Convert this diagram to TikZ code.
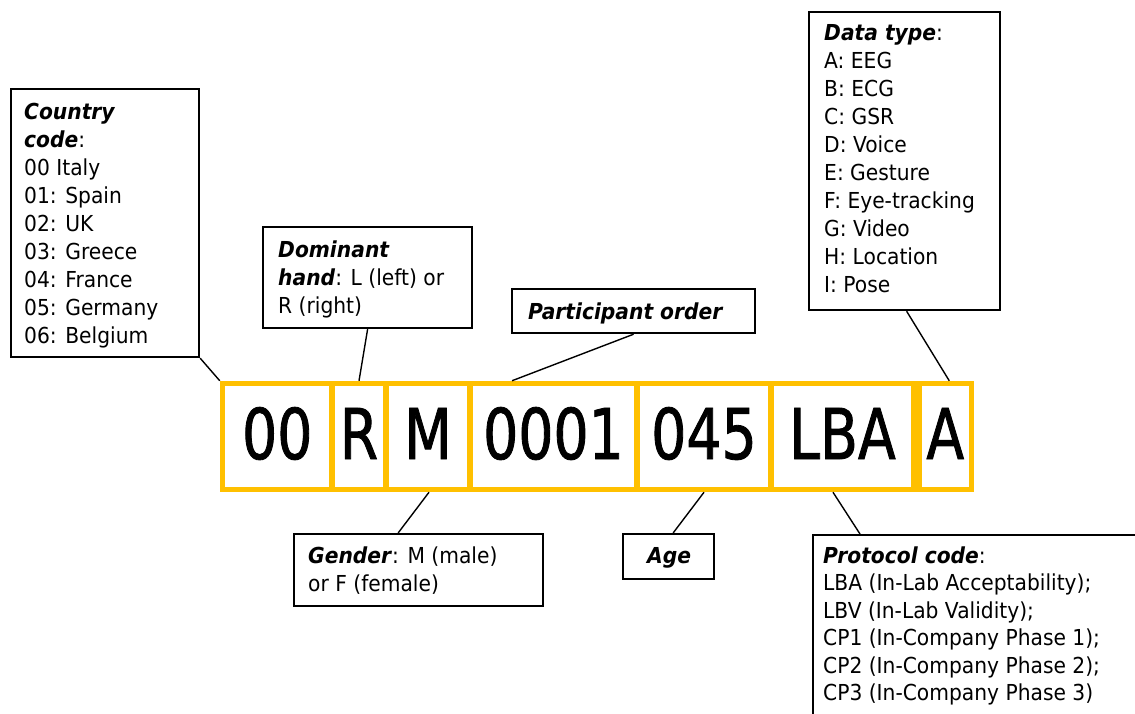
\documentclass[tikz,border=0pt]{standalone}
\usepackage{fontspec}
\setmainfont{DejaVu Sans}[FakeStretch=0.92,
  BoldFont={DejaVu Sans Bold},
  ItalicFont={DejaVu Sans Oblique},
  BoldItalicFont={DejaVu Sans Bold Oblique}]
\newfontfamily\bigfont{DejaVu Sans}[FakeStretch=0.79, FakeBold=1.2]
\usetikzlibrary{calc}
\definecolor{codeyellow}{HTML}{FFC000}
\newcommand{\bi}[1]{\textbf{\textit{#1}}}
\newcommand{\fst}{\rule{0pt}{20pt}}
\begin{document}
\begin{tikzpicture}[x=1pt,y=-1pt,
  lbl/.style={font=\fontsize{22}{28}\selectfont, inner sep=0pt, align=left, anchor=north west},
  lblone/.style={font=\fontsize{22}{28}\selectfont, inner sep=0pt, anchor=base west},
  box/.style={draw=black, line width=2.2pt, inner sep=0pt, anchor=north west},
  cell/.style={draw=codeyellow, line width=5.5pt, inner sep=0pt,
    font=\bigfont\fontsize{70}{70}\selectfont, text height=51pt, text depth=6pt,
    minimum height=106pt},
  link/.style={draw=black, line width=1.4pt}]
\useasboundingbox (0,0) rectangle (1135,713);
\clip (0,0) rectangle (1135,713);

% code cells
\node[cell, minimum width=109.5pt] (c00)   at (277.25,436.5) {00};
\node[cell, minimum width=54pt]    (cR)    at (359,436.5)    {R};
\node[cell, minimum width=84pt]    (cM)    at (428,436.5)    {M};
\node[cell, minimum width=167pt]   (c0001) at (553.5,436.5)  {0001};
\node[cell, minimum width=134pt]   (c045)  at (704,436.5)    {045};
\node[cell, minimum width=143pt]   (cLBA)  at (842.5,436.5)  {LBA\hspace{8pt}};
\node[cell, minimum width=52.5pt]  (cA)    at (945.25,436.5) {A};

% boxes
\node[box, minimum width=188pt, minimum height=268pt] (country) at (10,88) {};
\node[box, minimum width=209pt, minimum height=101pt] (dom) at (262,226) {};
\node[box, minimum width=243pt, minimum height=44pt] (part) at (511,288) {};
\node[box, minimum width=191pt, minimum height=298pt] (data) at (808,11) {};
\node[box, minimum width=249pt, minimum height=72pt] (gender) at (293,533) {};
\node[box, minimum width=91pt, minimum height=45pt] (age) at (622,533) {};
\node[box, minimum width=340pt, minimum height=200pt] (prot) at (812,534) {};

% texts
\node[lbl] (countrytxt) at (24,99) {\fst\bi{Country}\\\bi{code}:\\00 Italy\\01: Spain\\02: UK\\03: Greece\\04: France\\05: Germany\\06: Belgium};
\node[lbl] (domtxt) at (278,237) {\fst\bi{Dominant}\\\bi{hand}: L (left) or\\R (right)};
\node[lblone] (parttxt) at (528,319) {\bi{Participant order}};
\node[lbl] (datatxt) at (824,20) {\fst\bi{Data type}:\\A: EEG\\B: ECG\\C: GSR\\D: Voice\\E: Gesture\\F: Eye-tracking\\G: Video\\H: Location\\I: Pose};
\node[lbl] (gendertxt) at (308,543) {\fst\bi{Gender}: M (male)\\or F (female)};
\node[lblone] (agetxt) at (647,563) {\bi{Age}};
\node[lbl, font=\fontsize{22}{27.5}\selectfont] (prottxt) at (823,543) {\fst\bi{Protocol code}:\\LBA (In-Lab Acceptability);\\LBV (In-Lab Validity);\\CP1 (In-Company Phase 1);\\CP2 (In-Company Phase 2);\\CP3 (In-Company Phase 3)};

% connectors
\draw[link] (country.south east) -- (c00.north west);
\draw[link] (dom.south) -- (cR.north);
\draw[link] (part.south) -- ([xshift=-41.5pt]c0001.north);
\draw[link] ([xshift=2pt]data.south) -- ([xshift=4pt]cA.north);
\draw[link] ([xshift=1pt]cM.south) -- ([xshift=-20.5pt]gender.north);
\draw[link] (c045.south) -- ([xshift=4.5pt]age.north);
\draw[link] ([xshift=-9.5pt]cLBA.south) -- ([xshift=48pt]prot.north west);
\end{tikzpicture}
\end{document}
